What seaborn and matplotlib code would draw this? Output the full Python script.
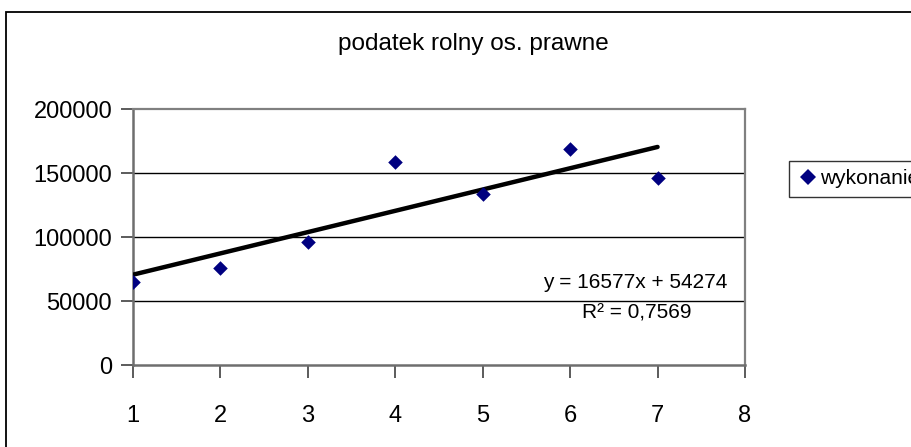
import matplotlib
matplotlib.use("Agg")
import matplotlib.pyplot as plt
import seaborn as sns
import pandas as pd
from matplotlib.patches import Rectangle
from matplotlib.lines import Line2D

# data
x_values = [1, 2, 3, 4, 5, 6, 7]
y_values = [64800, 75800, 96300, 158400, 133600, 168500, 145800]
series_name = "wykonanie"
title_text = "podatek rolny os. prawne"
equation_text = "y = 16577x + 54274"
r2_text = "R² = 0,7569"
x_ticks = [1, 2, 3, 4, 5, 6, 7, 8]
y_ticks = [0, 50000, 100000, 150000, 200000]

df = pd.DataFrame({"x": x_values, "y": y_values})

sns.set_style("white")
plt.rcParams["font.family"] = ["Liberation Sans", "DejaVu Sans"]
plt.rcParams["text.color"] = "black"
plt.rcParams["axes.labelcolor"] = "black"
plt.rcParams["xtick.color"] = "black"
plt.rcParams["ytick.color"] = "black"

W, H = 912, 447
fig = plt.figure(figsize=(W / 100, H / 100), dpi=100)
ax = fig.add_axes([133 / W, (H - 365) / H, (745 - 133) / W, (365 - 109) / H])

# outer chart border
fig.patches.append(Rectangle((6.5 / W, -0.1), 1.2, (H - 11.5) / H + 0.1,
                             transform=fig.transFigure, fill=False,
                             edgecolor="black", linewidth=1.3, zorder=0))

# gridlines
for yv in y_ticks[1:-1]:
    ax.axhline(yv, color="black", linewidth=1.0, zorder=1)

sns.regplot(data=df, x="x", y="y", scatter=False, ci=None, truncate=True,
            line_kws={"color": "black", "linewidth": 3.2, "solid_capstyle": "round", "zorder": 3},
            ax=ax)
sns.scatterplot(data=df, x="x", y="y", marker="D", s=55, color="#000080",
                edgecolor="#000080", linewidth=0, zorder=4, ax=ax, legend=False)

ax.set_xlim(1, 8)
ax.set_ylim(0, 200000)
ax.set_xticks(x_ticks)
ax.set_yticks(y_ticks)
ax.set_xticklabels([str(v) for v in x_ticks])
ax.set_yticklabels([str(v) for v in y_ticks])
ax.set_xlabel("")
ax.set_ylabel("")

for side in ["top", "right"]:
    ax.spines[side].set_color("#808080")
    ax.spines[side].set_linewidth(1.6)
for side in ["left", "bottom"]:
    ax.spines[side].set_color("#6e6e6e")
    ax.spines[side].set_linewidth(1.8)

ax.tick_params(axis="both", direction="out", length=9, width=1.2, colors="#404040",
               labelcolor="black", labelsize=17, left=True, bottom=True)
ax.tick_params(axis="y", pad=6)
ax.tick_params(axis="x", pad=20)

fig.text(473 / W, 1 - 44 / H, title_text, ha="center", va="center", fontsize=17.5,
         color="black")

ax.text(727 / W, 1 - 283 / H, equation_text, transform=fig.transFigure, fontsize=15,
        ha="right", va="center", color="black")
ax.text(692 / W, 1 - 313 / H, r2_text, transform=fig.transFigure, fontsize=15,
        ha="right", va="center", color="black")

handle = Line2D([], [], marker="D", linestyle="none", color="#000080",
                markersize=8, markeredgewidth=0)
leg = fig.legend([handle], [series_name], loc="upper left",
                 bbox_to_anchor=(789 / W, 1 - 161 / H), frameon=True,
                 fontsize=15, fancybox=False, borderpad=0.4,
                 handletextpad=0.1, handlelength=1.0, borderaxespad=0,
                 labelcolor="black")
leg.get_frame().set_edgecolor("black")
leg.get_frame().set_linewidth(1.0)

fig.savefig("out.png", dpi=100)
